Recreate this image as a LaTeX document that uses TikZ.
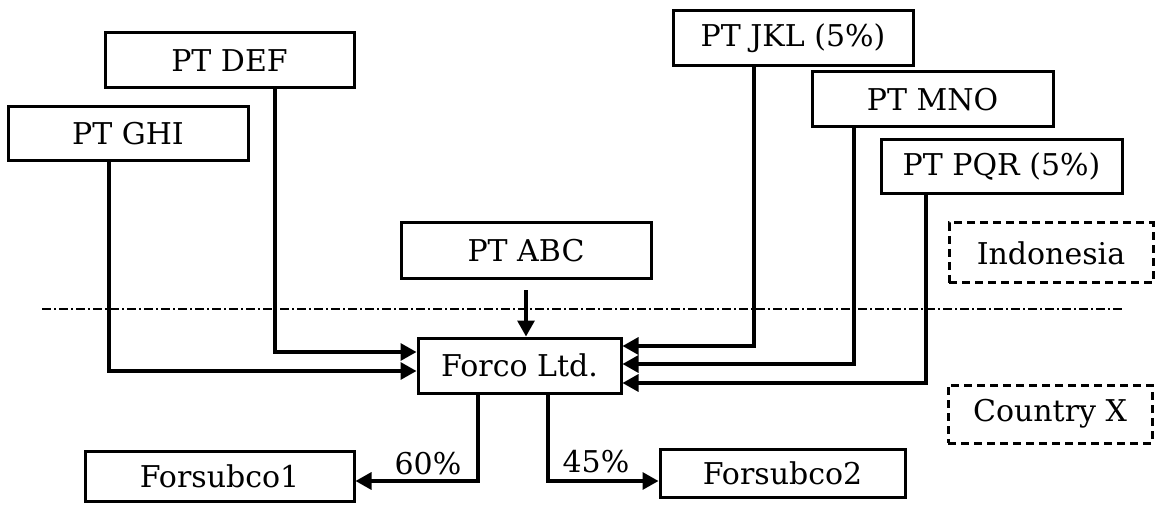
\documentclass[tikz,border=0pt]{standalone}
\usepackage{fontspec}
\setmainfont{DejaVu Serif}
\usetikzlibrary{arrows.meta}
\begin{document}
\begin{tikzpicture}[x=1pt,y=-1pt,
  every node/.style={font=\fontsize{30}{35}\selectfont},
  entity/.style={draw,line width=3pt,inner sep=0pt,anchor=center},
  region/.style={draw,line width=3pt,inner sep=0pt,anchor=center,dash pattern=on 8pt off 5pt},
  conn/.style={line width=3.2pt,-{Triangle[length=16pt,width=17pt]}},
  border/.style={line width=1.5pt,dash pattern=on 9pt off 3pt on 2pt off 3pt},
  pct/.style={inner sep=0pt,anchor=center}]
\useasboundingbox (0,0) rectangle (1160,505);
% border line
\coordinate (bl) at (42,309);
\coordinate (br) at (1122,309);
\draw[border] (bl) -- (br);
% nodes
\node[entity,minimum width=249pt,minimum height=55pt] (def) at (229.5,60.5) {PT DEF};
\node[entity,minimum width=240pt,minimum height=54pt] (ghi) at (128,134) {PT GHI};
\node[entity,minimum width=250pt,minimum height=56pt] (abc) at (526,251) {PT ABC};
\node[entity,minimum width=240pt,minimum height=55pt] (jkl) at (793,38.5) {PT JKL (5\%)};
\node[entity,minimum width=241pt,minimum height=55pt] (mno) at (932.5,99.5) {PT MNO};
\node[entity,minimum width=241pt,minimum height=54pt] (pqr) at (1001.5,167) {PT PQR (5\%)};
\node[region,minimum width=204pt,minimum height=60pt] (indo) at (1051,253) {Indonesia};
\node[region,minimum width=204pt,minimum height=58pt] (ctry) at (1050,414) {Country X};
\node[entity,minimum width=203pt,minimum height=55pt] (forco) at (519.5,365.5) {Forco Ltd.};
\node[entity,minimum width=269pt,minimum height=50pt] (sub1) at (219.5,476.5) {Forsubco1};
\node[entity,minimum width=245pt,minimum height=48pt] (sub2) at (782.5,473) {Forsubco2};
\node[pct] (p60) at (428,464) {60\%};
\node[pct] (p45) at (596,462) {45\%};
% connectors
\draw[conn] ([yshift=-10pt]abc.south) -- (abc.south |- forco.north);
\draw[conn] ([xshift=45.5pt]def.south) |- ([yshift=13.5pt]forco.west);
\draw[conn] ([xshift=-19pt]ghi.south) |- ([yshift=-5.5pt]forco.west);
\draw[conn] ([xshift=-39pt]jkl.south) |- ([yshift=19.5pt]forco.east);
\draw[conn] ([xshift=-78.5pt]mno.south) |- ([yshift=1.5pt]forco.east);
\draw[conn] ([xshift=-75.5pt]pqr.south) |- ([yshift=-17.5pt]forco.east);
\draw[conn] ([xshift=-41.5pt]forco.south) |- ([yshift=-4.5pt]sub1.east);
\draw[conn] ([xshift=28.5pt]forco.south) |- ([yshift=-8pt]sub2.west);
\end{tikzpicture}
\end{document}
